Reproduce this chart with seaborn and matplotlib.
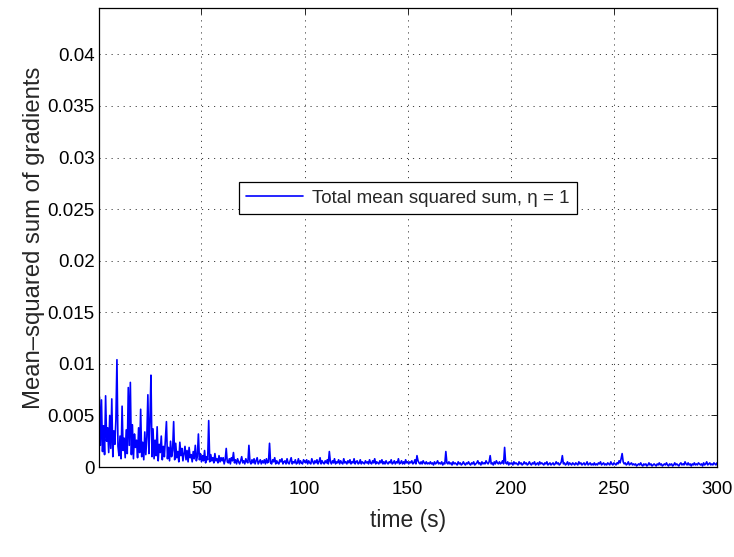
import numpy as np
import pandas as pd
import matplotlib
matplotlib.use("Agg")
import matplotlib.pyplot as plt
import seaborn as sns

# ---- data (values in units of 1e-3), sampled every 0.5 s ----
# t = 0.5 .. 60
msq_early_e3 = [
    6.8, 2.1, 6.5, 1.5, 4.0, 1.2, 6.9, 2.5, 3.8, 1.4,
    5.0, 1.8, 6.6, 1.0, 3.5, 2.2, 4.6, 10.4, 2.0, 1.1,
    3.0, 0.8, 5.9, 1.6, 2.8, 0.9, 3.6, 1.3, 7.7, 2.1,
    8.2, 1.2, 4.1, 0.8, 3.2, 1.9, 2.6, 0.9, 3.8, 1.4,
    5.6, 1.0, 2.4, 0.7, 3.4, 1.2, 2.9, 7.0, 1.3, 4.5,
    8.9, 1.0, 3.7, 0.8, 2.6, 1.1, 3.9, 0.6, 2.2, 1.4,
    3.0, 0.7, 2.0, 1.0, 2.7, 4.4, 0.8, 1.9, 0.6, 2.5,
    1.0, 1.6, 4.4, 0.7, 2.3, 0.9, 1.5, 0.5, 2.4, 1.1,
    1.8, 0.6, 1.3, 2.0, 0.7, 1.6, 0.5, 1.9, 0.9, 1.2,
    0.5, 1.5, 0.8, 2.1, 0.6, 1.0, 3.2, 0.7, 1.3, 0.5,
    1.1, 0.6, 1.6, 0.4, 1.0, 0.7, 4.5, 0.5, 1.2, 0.6,
    0.9, 0.4, 1.3, 0.6, 0.8, 0.4, 1.1, 0.5, 0.9, 0.6,
]
# t = 60.5 .. 300 (one row = 10 s)
msq_late_e3 = [
    0.9, 0.3, 0.7, 1.8, 0.5, 0.4, 0.8, 0.3, 0.9, 0.6, 1.4, 0.4, 0.7, 0.3, 0.8, 0.5, 0.3, 0.6, 1.0, 0.4,
    0.6, 0.3, 0.8, 0.5, 0.4, 2.1, 0.5, 0.3, 0.7, 0.4, 0.8, 0.3, 0.6, 0.9, 0.3, 0.5, 0.7, 0.3, 0.6, 0.4,
    0.7, 0.3, 0.8, 0.4, 0.5, 2.3, 0.4, 0.3, 0.7, 0.5, 0.9, 0.3, 0.6, 0.4, 0.3, 0.7, 0.5, 0.8, 0.3, 0.5,
    0.6, 0.3, 0.8, 0.4, 0.3, 0.6, 0.9, 0.3, 0.5, 0.4, 0.7, 0.3, 0.4, 0.8, 0.3, 0.6, 0.4, 0.3, 0.7, 0.5,
    0.4, 0.7, 0.3, 0.6, 0.4, 0.3, 0.8, 0.5, 0.3, 0.6, 0.4, 0.7, 0.3, 0.5, 0.9, 0.3, 0.6, 0.4, 0.3, 0.6,
    0.4, 0.7, 0.3, 1.5, 0.5, 0.3, 0.6, 0.4, 0.8, 0.3, 0.5, 0.4, 0.7, 0.3, 0.6, 0.4, 0.3, 0.8, 0.4, 0.5,
    0.3, 0.6, 0.4, 0.7, 0.3, 0.5, 0.4, 0.8, 0.3, 0.5, 0.6, 0.3, 0.4, 0.7, 0.3, 0.5, 0.4, 0.3, 0.6, 0.4,
    0.5, 0.3, 0.7, 0.4, 0.3, 0.6, 0.4, 0.8, 0.3, 0.5, 0.4, 0.3, 0.6, 0.4, 0.7, 0.3, 0.5, 0.3, 0.6, 0.4,
    0.3, 0.5, 0.4, 0.7, 0.3, 0.4, 0.6, 0.3, 0.5, 0.4, 0.8, 0.3, 0.4, 0.6, 0.3, 0.5, 0.3, 0.7, 0.4, 0.5,
    0.3, 0.5, 0.4, 0.6, 0.3, 0.4, 0.7, 0.3, 1.1, 0.6, 0.4, 0.3, 0.5, 0.3, 0.6, 0.4, 0.3, 0.5, 0.3, 0.4,
    0.3, 0.5, 0.3, 0.4, 0.2, 0.5, 0.3, 0.4, 0.6, 0.3, 0.4, 0.3, 0.5, 0.2, 0.4, 0.3, 1.5, 0.4, 0.3, 0.5,
    0.3, 0.4, 0.2, 0.5, 0.3, 0.4, 0.3, 0.2, 0.5, 0.3, 0.4, 0.2, 0.3, 0.5, 0.3, 0.2, 0.4, 0.3, 0.5, 0.3,
    0.2, 0.4, 0.3, 0.5, 0.2, 0.3, 0.4, 0.6, 0.3, 0.4, 0.2, 0.5, 0.3, 0.4, 0.3, 0.6, 0.4, 0.3, 0.5, 1.1,
    0.3, 0.4, 0.2, 0.5, 0.3, 0.6, 0.4, 0.3, 0.5, 0.3, 0.4, 0.6, 0.3, 1.9, 0.4, 0.3, 0.5, 0.2, 0.4, 0.3,
    0.4, 0.2, 0.5, 0.3, 0.4, 0.3, 0.2, 0.5, 0.3, 0.4, 0.2, 0.3, 0.5, 0.3, 0.4, 0.2, 0.3, 0.5, 0.3, 0.2,
    0.4, 0.3, 0.5, 0.2, 0.3, 0.4, 0.2, 0.5, 0.3, 0.4, 0.3, 0.2, 0.4, 0.3, 0.5, 0.2, 0.3, 0.4, 0.2, 0.3,
    0.4, 0.2, 0.3, 0.5, 0.3, 0.4, 0.2, 0.3, 0.5, 1.1, 0.3, 0.4, 0.2, 0.3, 0.5, 0.2, 0.4, 0.3, 0.2, 0.4,
    0.3, 0.2, 0.4, 0.3, 0.2, 0.5, 0.3, 0.4, 0.2, 0.3, 0.4, 0.2, 0.3, 0.5, 0.2, 0.3, 0.4, 0.2, 0.3, 0.2,
    0.4, 0.2, 0.3, 0.2, 0.4, 0.3, 0.5, 0.2, 0.3, 0.4, 0.2, 0.3, 0.2, 0.4, 0.3, 0.2, 0.5, 0.3, 0.2, 0.4,
    0.3, 0.2, 0.4, 0.3, 0.6, 0.4, 0.8, 1.3, 0.5, 0.3, 0.4, 0.2, 0.3, 0.5, 0.2, 0.3, 0.4, 0.2, 0.3, 0.2,
    0.3, 0.1, 0.2, 0.3, 0.2, 0.4, 0.2, 0.1, 0.3, 0.2, 0.3, 0.1, 0.2, 0.4, 0.2, 0.3, 0.1, 0.2, 0.3, 0.2,
    0.1, 0.3, 0.2, 0.4, 0.2, 0.3, 0.1, 0.2, 0.3, 0.2, 0.4, 0.2, 0.1, 0.3, 0.2, 0.3, 0.1, 0.2, 0.4, 0.2,
    0.3, 0.2, 0.1, 0.3, 0.4, 0.2, 0.3, 0.2, 0.5, 0.3, 0.2, 0.4, 0.2, 0.3, 0.1, 0.3, 0.2, 0.4, 0.2, 0.3,
    0.2, 0.4, 0.3, 0.2, 0.3, 0.1, 0.4, 0.2, 0.3, 0.5, 0.2, 0.3, 0.4, 0.2, 0.3, 0.2, 0.4, 0.3, 0.2, 0.4,
]
sample_step = 0.5  # seconds between samples

xticks = [50, 100, 150, 200, 250, 300]
yticks = [0, 0.005, 0.01, 0.015, 0.02, 0.025, 0.03, 0.035, 0.04]
ytick_labels = ["0", "0.005", "0.01", "0.015", "0.02", "0.025", "0.03", "0.035", "0.04"]
series_label = "Total mean squared sum, η = 1"

values = np.concatenate([msq_early_e3, msq_late_e3]) * 1e-3
df = pd.DataFrame({
    "time": np.arange(1, len(values) + 1) * sample_step,
    "msq": values,
})

sns.set_style("white")
plt.rcParams["font.family"] = ["Liberation Sans", "DejaVu Sans"]

fig = plt.figure(figsize=(7.34, 5.57), dpi=100)
ax = fig.add_axes([99 / 734, 1 - 467 / 557, (717 - 99) / 734, (467 - 8) / 557])

sns.lineplot(data=df, x="time", y="msq", color="#0000ff", linewidth=1.2,
             label=series_label, ax=ax, sort=False, estimator=None)

ax.set_xlim(0.3, 300)
ax.set_ylim(0, 0.0445)
ax.set_xticks(xticks)
ax.set_xticklabels([str(v) for v in xticks])
ax.set_yticks(yticks)
ax.set_yticklabels(ytick_labels)
ax.tick_params(direction="in", top=True, right=True, length=4, width=0.6,
               labelsize=13.5, colors="black")
ax.tick_params(axis="x", pad=10)
ax.tick_params(axis="y", pad=3)
ax.grid(True, color="0.25", linestyle=(0, (1.2, 5)), linewidth=0.7)
for s in ax.spines.values():
    s.set_color("black")
    s.set_linewidth(0.9)

ax.set_xlabel("time (s)", fontsize=16.5, labelpad=8)
ax.set_ylabel("Mean\u2013squared sum of gradients", fontsize=17.2, labelpad=2)

leg = ax.legend(loc="center", bbox_to_anchor=(0.5, 0.586), fontsize=13.5,
                handlelength=3.0, frameon=True, fancybox=False, framealpha=1,
                borderpad=0.4, handletextpad=0.5)
leg.get_frame().set_edgecolor("black")
leg.get_frame().set_linewidth(0.9)

fig.savefig("out.png", dpi=100)
